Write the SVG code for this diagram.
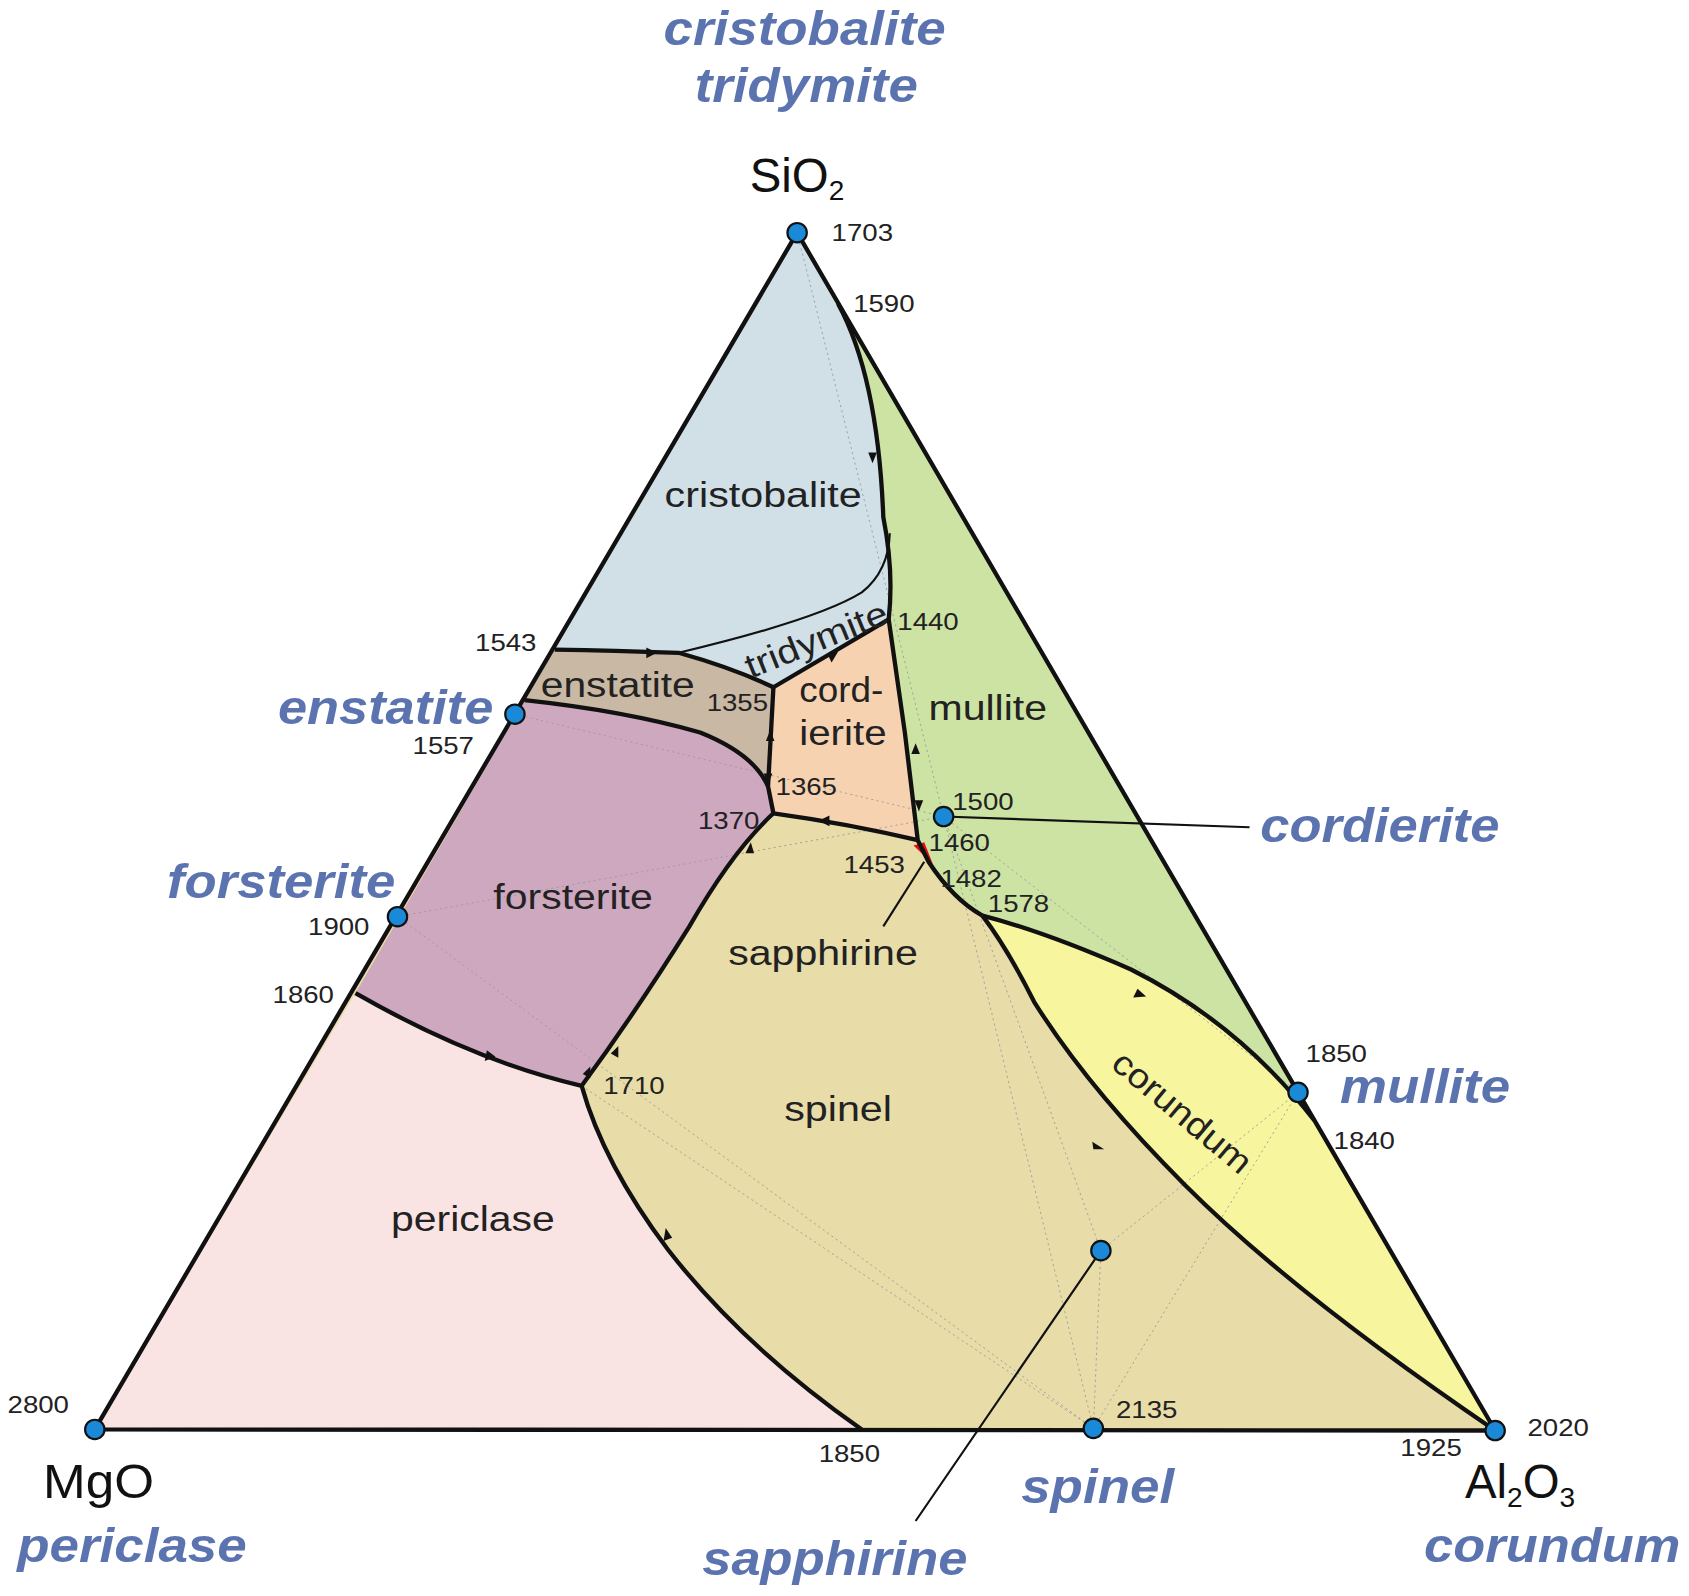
<svg xmlns="http://www.w3.org/2000/svg" width="1689" height="1596" viewBox="0 0 1689 1596">
<style>
.b{fill:none;stroke:#111;stroke-width:4;stroke-linejoin:round}
.t{fill:none;stroke:#111;stroke-width:2}
.d{fill:none;stroke:#999;stroke-width:0.8;stroke-dasharray:2 3}
.n{font-family:"Liberation Sans",Arial,sans-serif;font-size:23px;fill:#222}
.r{font-family:"Liberation Sans",Arial,sans-serif;font-size:32px;fill:#222}
.m{font-family:"Liberation Sans",Arial,sans-serif;font-size:44px;fill:#111}
.p{font-family:"Liberation Sans",Arial,sans-serif;font-size:44px;fill:#5b74b0;font-weight:bold;font-style:italic}
.c{fill:#1a8ad8;stroke:#111;stroke-width:2}
.a{fill:#111}
</style>
<rect width="1689" height="1596" fill="#fff"/>
<g transform="scale(1.0772)">
<g id="regions">
<polygon points="88,1327 740,216 1388,1328" fill="#e8dca8"/>
<path id="cristobalite-region" d="M740,216 L515,603 Q570,604 630,606 Q680,620 718,638 L825,575 Q830,530 820,480 Q815,350 778,282 Z" fill="#d1dfe6"/>
<path id="mullite-region" d="M778,282 L1220,1040 Q1150,950 1050,900 Q970,865 912,850 Q885,835 862,800 L852,780 Q845,700 840,680 L825,575 Q830,530 820,480 Q815,350 778,282 Z" fill="#cce3a4"/>
<path id="corundum-region" d="M912,850 Q970,865 1050,900 Q1150,950 1220,1040 L1388,1328 Q1200,1200 1100,1100 Q1010,1010 960,930 Q935,880 912,850 Z" fill="#f7f59e"/>
<path id="enstatite-region" d="M515,603 Q570,604 630,606 Q680,620 718,638 L713,730 Q700,700 650,680 Q580,660 487,650 Z" fill="#c9b8a3"/>
<path id="cordierite-region" d="M718,638 L825,575 L840,680 L852,780 Q790,765 718,755 L713,730 Z" fill="#f7d2b0"/>
<path id="forsterite-region" d="M487,650 Q580,660 650,680 Q700,700 713,730 L718,755 Q680,790 640,860 Q590,940 540,1008 Q440,985 330,922 Z" fill="#cea8bf"/>
<path id="periclase-region" d="M88,1327 L330,922 Q440,985 540,1008 Q560,1080 620,1160 Q690,1250 800,1327 Z" fill="#fae3e3"/>
<polygon points="848,785 858,782 866,802" fill="#e01010"/>
</g>
<g id="tielines">
<path class="d" d="M478,663 L876,758 M369,851 L876,758 M369,851 L1015,1326 M1015,1326 L1205,1014 M1022,1161 L1205,1014 M1022,1161 L1015,1326 M1022,1161 L876,758 M1015,1326 L876,758 M876,758 L1205,1014 M740,216 L876,758 M1015,1326 L540,1008 M1388,1328 L1205,1014"/>
</g>
<g id="connectors">
<polygon class="b" points="88,1327 740,216 1388,1328"/>
<path class="b" d="M778,282 Q815,350 820,480 Q830,530 825,575 L840,680 L852,780 L862,800 Q885,835 912,850"/>
<path class="b" d="M515,603 Q570,604 630,606 Q680,620 718,638 L825,575"/>
<path class="t" d="M630,606 Q760,575 800,550 Q825,530 826,495"/>
<path class="b" d="M718,638 L713,730 L718,755 Q790,765 852,780"/>
<path class="b" d="M487,650 Q580,660 650,680 Q700,700 713,730"/>
<path class="b" d="M718,755 Q680,790 640,860 Q590,940 540,1008"/>
<path class="b" d="M330,922 Q440,985 540,1008 Q560,1080 620,1160 Q690,1250 800,1327"/>
<path class="b" d="M912,850 Q970,865 1050,900 Q1150,950 1220,1040"/>
<path class="b" d="M912,850 Q935,880 960,930 Q1010,1010 1100,1100 Q1200,1200 1388,1328"/>
<path class="t" d="M876,758 L1160,768 M1022,1161 L850,1412 M858,800 L820,860"/>
<g class="a">
<polygon points="806,420 814,420 810,430"/>
<polygon points="600,601 600,611 610,606"/>
<polygon points="778,605 772,615 768,607"/>
<polygon points="711,688 719,688 715,678"/>
<polygon points="709,718 717,718 713,728"/>
<polygon points="846,700 854,700 850,690"/>
<polygon points="849,743 857,743 853,753"/>
<polygon points="770,757 770,767 760,762"/>
<polygon points="692,792 700,792 697,782"/>
<polygon points="567,978 574,982 574,971"/>
<polygon points="541,997 548,1001 548,990"/>
<polygon points="452,975 450,985 460,981"/>
<polygon points="616,1152 624,1149 618,1140"/>
<polygon points="1015,1067 1025,1067 1014,1060"/>
<polygon points="1064,925 1056,918 1052,926"/>
</g>
</g>
<g id="points">
<circle class="c" cx="740" cy="216" r="9"/>
<circle class="c" cx="478" cy="663" r="9"/>
<circle class="c" cx="369" cy="851" r="9"/>
<circle class="c" cx="88" cy="1327" r="9"/>
<circle class="c" cx="1388" cy="1328" r="9"/>
<circle class="c" cx="1015" cy="1326" r="9"/>
<circle class="c" cx="1022" cy="1161" r="9"/>
<circle class="c" cx="1205" cy="1014" r="9"/>
<circle class="c" cx="876" cy="758" r="9"/>
</g>
<g id="numbers">
<text class="n" x="772" y="224" textLength="57" lengthAdjust="spacingAndGlyphs">1703</text>
<text class="n" x="792" y="290" textLength="57" lengthAdjust="spacingAndGlyphs">1590</text>
<text class="n" x="441" y="604" textLength="57" lengthAdjust="spacingAndGlyphs">1543</text>
<text class="n" x="383" y="700" textLength="57" lengthAdjust="spacingAndGlyphs">1557</text>
<text class="n" x="286" y="868" textLength="57" lengthAdjust="spacingAndGlyphs">1900</text>
<text class="n" x="253" y="931" textLength="57" lengthAdjust="spacingAndGlyphs">1860</text>
<text class="n" x="7" y="1312" textLength="57" lengthAdjust="spacingAndGlyphs">2800</text>
<text class="n" x="833" y="585" textLength="57" lengthAdjust="spacingAndGlyphs">1440</text>
<text class="n" x="656" y="660" textLength="57" lengthAdjust="spacingAndGlyphs">1355</text>
<text class="n" x="720" y="738" textLength="57" lengthAdjust="spacingAndGlyphs">1365</text>
<text class="n" x="648" y="770" textLength="57" lengthAdjust="spacingAndGlyphs">1370</text>
<text class="n" x="884" y="752" textLength="57" lengthAdjust="spacingAndGlyphs">1500</text>
<text class="n" x="862" y="790" textLength="57" lengthAdjust="spacingAndGlyphs">1460</text>
<text class="n" x="783" y="810" textLength="57" lengthAdjust="spacingAndGlyphs">1453</text>
<text class="n" x="873" y="823" textLength="57" lengthAdjust="spacingAndGlyphs">1482</text>
<text class="n" x="917" y="847" textLength="57" lengthAdjust="spacingAndGlyphs">1578</text>
<text class="n" x="560" y="1016" textLength="57" lengthAdjust="spacingAndGlyphs">1710</text>
<text class="n" x="1212" y="986" textLength="57" lengthAdjust="spacingAndGlyphs">1850</text>
<text class="n" x="1238" y="1067" textLength="57" lengthAdjust="spacingAndGlyphs">1840</text>
<text class="n" x="760" y="1357" textLength="57" lengthAdjust="spacingAndGlyphs">1850</text>
<text class="n" x="1036" y="1316" textLength="57" lengthAdjust="spacingAndGlyphs">2135</text>
<text class="n" x="1300" y="1352" textLength="57" lengthAdjust="spacingAndGlyphs">1925</text>
<text class="n" x="1418" y="1333" textLength="57" lengthAdjust="spacingAndGlyphs">2020</text>
</g>
<g id="labels">
<text class="r" x="617" y="471" textLength="183" lengthAdjust="spacingAndGlyphs">cristobalite</text>
<text class="r" transform="translate(697,630) rotate(-22)" textLength="140" lengthAdjust="spacingAndGlyphs">tridymite</text>
<text class="r" x="502" y="647" textLength="143" lengthAdjust="spacingAndGlyphs">enstatite</text>
<text class="r" x="742" y="652" textLength="78" lengthAdjust="spacingAndGlyphs">cord-</text>
<text class="r" x="742" y="692" textLength="81" lengthAdjust="spacingAndGlyphs">ierite</text>
<text class="r" x="862" y="668" textLength="110" lengthAdjust="spacingAndGlyphs">mullite</text>
<text class="r" x="458" y="844" textLength="148" lengthAdjust="spacingAndGlyphs">forsterite</text>
<text class="r" x="676" y="896" textLength="176" lengthAdjust="spacingAndGlyphs">sapphirine</text>
<text class="r" x="728" y="1041" textLength="100" lengthAdjust="spacingAndGlyphs">spinel</text>
<text class="r" x="363" y="1143" textLength="152" lengthAdjust="spacingAndGlyphs">periclase</text>
<text class="r" transform="translate(1030,990) rotate(40)" textLength="158" lengthAdjust="spacingAndGlyphs">corundum</text>
<text class="m" x="696" y="178">SiO<tspan font-size="26" dy="8">2</tspan></text>
<text class="m" x="40" y="1391" textLength="103" lengthAdjust="spacingAndGlyphs">MgO</text>
<text class="m" x="1360" y="1391">Al<tspan font-size="26" dy="8">2</tspan><tspan dy="-8">O</tspan><tspan font-size="26" dy="8">3</tspan></text>
<text class="p" x="616" y="42" textLength="262" lengthAdjust="spacingAndGlyphs">cristobalite</text>
<text class="p" x="645" y="95" textLength="207" lengthAdjust="spacingAndGlyphs">tridymite</text>
<text class="p" x="258" y="672" textLength="200" lengthAdjust="spacingAndGlyphs">enstatite</text>
<text class="p" x="155" y="834" textLength="212" lengthAdjust="spacingAndGlyphs">forsterite</text>
<text class="p" x="1170" y="782" textLength="222" lengthAdjust="spacingAndGlyphs">cordierite</text>
<text class="p" x="1244" y="1024" textLength="158" lengthAdjust="spacingAndGlyphs">mullite</text>
<text class="p" x="948" y="1395" textLength="142" lengthAdjust="spacingAndGlyphs">spinel</text>
<text class="p" x="652" y="1462" textLength="246" lengthAdjust="spacingAndGlyphs">sapphirine</text>
<text class="p" x="16" y="1450" textLength="213" lengthAdjust="spacingAndGlyphs">periclase</text>
<text class="p" x="1322" y="1450" textLength="238" lengthAdjust="spacingAndGlyphs">corundum</text>
</g>
</g>
</svg>
